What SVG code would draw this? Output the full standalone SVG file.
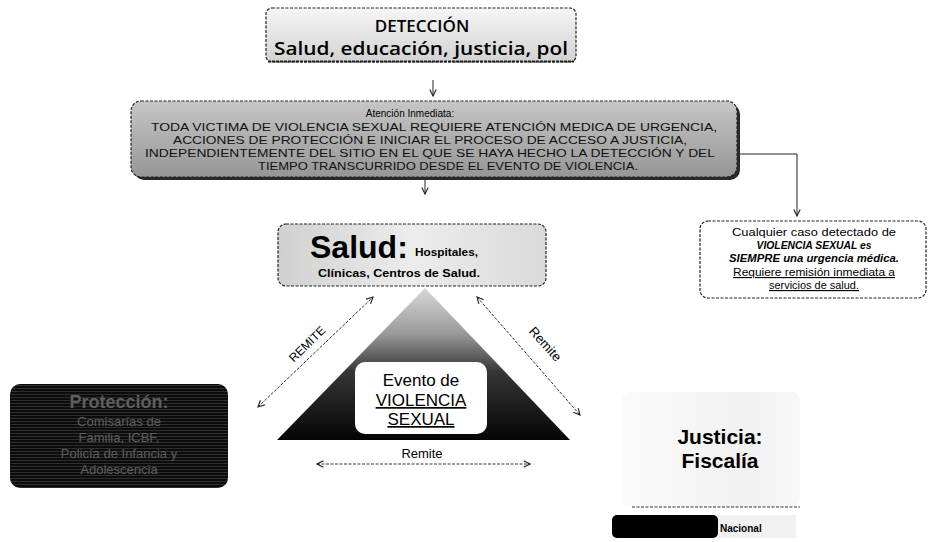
<svg xmlns="http://www.w3.org/2000/svg" width="934" height="542" viewBox="0 0 934 542">
<style>
.sans{font-family:"Liberation Sans",Arial,sans-serif;}
.cal{font-family:"Open Sans","Noto Sans",sans-serif;}
.box{stroke:#222;stroke-width:1.2;stroke-dasharray:3 1.5;}
.conn{fill:none;stroke:#222;stroke-width:1;}
.dconn{fill:none;stroke:#333;stroke-width:1;stroke-dasharray:3 1.5;}
.t2{font-size:11px;fill:#111;}
.ul{text-decoration:underline;}
.pt{fill:#5e5e5e;}
</style>
<defs>
<marker id="ah" viewBox="0 0 10 10" refX="9" refY="5" markerWidth="8" markerHeight="8" orient="auto-start-reverse" markerUnits="userSpaceOnUse">
<path d="M1,1 L9,5 L1,9" fill="none" stroke="#222" stroke-width="1.4"/>
</marker>
<linearGradient id="gDet" x1="0" y1="0" x2="0" y2="1">
<stop offset="0" stop-color="#f6f6f6"/><stop offset="1" stop-color="#d2d2d2"/>
</linearGradient>
<linearGradient id="gAt" x1="0" y1="0" x2="0" y2="1">
<stop offset="0" stop-color="#c6c6c6"/><stop offset="1" stop-color="#969696"/>
</linearGradient>
<linearGradient id="gSal" x1="0" y1="0" x2="1" y2="0">
<stop offset="0" stop-color="#d0d0d0"/><stop offset="0.5" stop-color="#ececec"/><stop offset="1" stop-color="#dadada"/>
</linearGradient>
<linearGradient id="gTri" x1="0" y1="0" x2="0" y2="1">
<stop offset="0" stop-color="#d8d8d8"/><stop offset="0.3" stop-color="#9a9a9a"/><stop offset="0.55" stop-color="#363636"/><stop offset="1" stop-color="#050505"/>
</linearGradient>
<linearGradient id="gJus" x1="0" y1="0" x2="1" y2="0">
<stop offset="0" stop-color="#fbfbfb"/><stop offset="0.7" stop-color="#f1f1f1"/><stop offset="1" stop-color="#f8f8f8"/>
</linearGradient>
<pattern id="scan" width="4" height="3" patternUnits="userSpaceOnUse">
<rect width="4" height="3" fill="#0c0c0c"/><rect y="1" width="4" height="1" fill="#2e2e2e"/>
</pattern>
</defs>

<g id="connectors">
<line class="conn" x1="433" y1="80" x2="433" y2="96" marker-end="url(#ah)"/>
<line class="conn" x1="425" y1="179" x2="425" y2="194" marker-end="url(#ah)"/>
<path class="conn" d="M737,154 H797 V216" marker-end="url(#ah)"/>
<line class="dconn" x1="258" y1="407" x2="373" y2="297" marker-start="url(#ah)" marker-end="url(#ah)"/>
<text class="sans" x="310" y="347" font-size="12" text-anchor="middle" transform="rotate(-44 310 347)">REMITE</text>
<line class="dconn" x1="477" y1="297" x2="580" y2="415" marker-start="url(#ah)" marker-end="url(#ah)"/>
<text class="sans" x="542" y="347" font-size="13" text-anchor="middle" transform="rotate(48 542 347)">Remite</text>
<line class="dconn" x1="317" y1="464" x2="530" y2="464" marker-start="url(#ah)" marker-end="url(#ah)"/>
<text class="sans" x="422" y="458" font-size="13" text-anchor="middle">Remite</text>
</g>

<g id="deteccion">
<rect class="box" x="266" y="8" width="310" height="54" rx="6" fill="url(#gDet)"/>
<line x1="268" y1="61.5" x2="574" y2="61.5" stroke="#222" stroke-width="2" stroke-dasharray="3 1"/>
<text class="cal" x="422" y="32" font-size="17" font-weight="600" text-anchor="middle">DETECCIÓN</text>
<text class="cal" x="274" y="55" font-size="18" font-weight="600" textLength="294" lengthAdjust="spacingAndGlyphs">Salud, educación, justicia, pol</text>
</g>

<g id="atencion">
<rect x="134" y="104" width="606" height="76" rx="10" fill="#2a2a2a"/>
<rect class="box" x="131" y="101" width="606" height="76" rx="10" fill="url(#gAt)"/>
<text class="sans" x="410" y="117" font-size="10" text-anchor="middle">Atención Inmediata:</text>
<text class="sans t2" x="434" y="131" text-anchor="middle" textLength="566" lengthAdjust="spacingAndGlyphs">TODA VICTIMA DE VIOLENCIA SEXUAL  REQUIERE ATENCIÓN MEDICA DE URGENCIA,</text>
<text class="sans t2" x="430" y="144" text-anchor="middle" textLength="514" lengthAdjust="spacingAndGlyphs">ACCIONES DE PROTECCIÓN E INICIAR EL PROCESO DE ACCESO A JUSTICIA,</text>
<text class="sans t2" x="430" y="157" text-anchor="middle" textLength="570" lengthAdjust="spacingAndGlyphs">INDEPENDIENTEMENTE DEL SITIO EN EL QUE SE HAYA HECHO LA DETECCIÓN Y DEL</text>
<text class="sans t2" x="448" y="170" text-anchor="middle" textLength="380" lengthAdjust="spacingAndGlyphs">TIEMPO TRANSCURRIDO DESDE EL EVENTO DE VIOLENCIA.</text>
</g>

<g id="salud">
<rect class="box" x="278" y="224" width="268" height="62" rx="8" fill="url(#gSal)"/>
<text class="sans" x="310" y="258" font-size="32" font-weight="bold">Salud:</text>
<text class="sans" x="415" y="256" font-size="11" font-weight="bold" textLength="63" lengthAdjust="spacingAndGlyphs">Hospitales,</text>
<text class="sans" x="318" y="277" font-size="11" font-weight="bold" textLength="162" lengthAdjust="spacingAndGlyphs">Clínicas, Centros de Salud.</text>
</g>

<g id="evento">
<polygon points="425,288 277,440 570,440" fill="url(#gTri)"/>
<rect x="355" y="362" width="132" height="72" rx="10" fill="#fff"/>
<text class="sans" x="421" y="386" font-size="17" text-anchor="middle">Evento de</text>
<text class="sans ul" x="421" y="406" font-size="17" text-anchor="middle">VIOLENCIA</text>
<text class="sans ul" x="421" y="425" font-size="17" text-anchor="middle">SEXUAL</text>
</g>

<g id="cualquier">
<rect class="box" x="700" y="221" width="226" height="77" rx="8" fill="#fff"/>
<text class="sans" x="814" y="236" font-size="11.5" text-anchor="middle" textLength="164" lengthAdjust="spacingAndGlyphs">Cualquier caso detectado de</text>
<text class="sans" x="814" y="249" font-size="11.5" font-weight="bold" font-style="italic" text-anchor="middle" textLength="115" lengthAdjust="spacingAndGlyphs">VIOLENCIA SEXUAL es</text>
<text class="sans" x="814" y="262" font-size="11.5" font-weight="bold" font-style="italic" text-anchor="middle" textLength="170" lengthAdjust="spacingAndGlyphs">SIEMPRE una urgencia médica.</text>
<text class="sans ul" x="814" y="276" font-size="11.5" text-anchor="middle" textLength="162" lengthAdjust="spacingAndGlyphs">Requiere remisión inmediata a</text>
<text class="sans ul" x="814" y="289" font-size="11.5" text-anchor="middle" textLength="90" lengthAdjust="spacingAndGlyphs">servicios de salud.</text>
</g>

<g id="proteccion">
<rect x="10" y="384" width="218" height="104" rx="10" fill="url(#scan)"/>
<text class="sans pt" x="119" y="408" font-size="18" font-weight="bold" text-anchor="middle">Protección:</text>
<text class="sans pt" x="119" y="426" font-size="13" text-anchor="middle">Comisarías de</text>
<text class="sans pt" x="119" y="442" font-size="13" text-anchor="middle">Familia, ICBF,</text>
<text class="sans pt" x="119" y="458" font-size="13" text-anchor="middle">Policía de Infancia y</text>
<text class="sans pt" x="119" y="474" font-size="13" text-anchor="middle">Adolescencia</text>
</g>

<g id="justicia">
<rect x="622" y="392" width="178" height="115" rx="8" fill="url(#gJus)"/>
<line x1="632" y1="507" x2="800" y2="507" stroke="#333" stroke-width="1.2" stroke-dasharray="3 1.5"/>
<text class="sans" x="720" y="444" font-size="21" font-weight="bold" text-anchor="middle">Justicia:</text>
<text class="sans" x="720" y="468" font-size="21" font-weight="bold" text-anchor="middle">Fiscalía</text>
</g>

<g id="nacional">
<rect x="716" y="515" width="80" height="23" fill="#f1f1f1"/>
<rect x="612" y="515" width="106" height="23" rx="5" fill="#000"/>
<text class="sans" x="720" y="532" font-size="10" font-weight="bold">Nacional</text>
</g>
</svg>
